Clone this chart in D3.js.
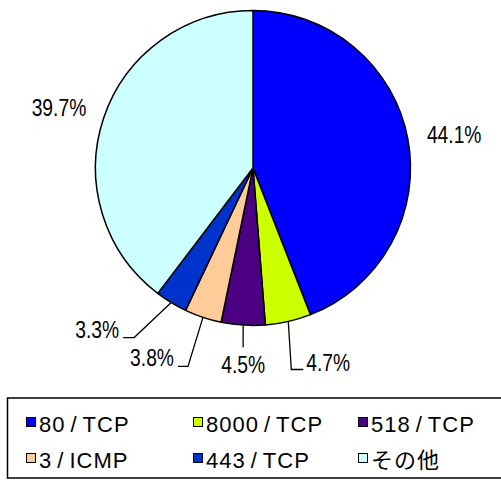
<!DOCTYPE html>
<html>
<head>
<meta charset="utf-8">
<script src="https://cdn.jsdelivr.net/npm/d3@7"></script>
<style>
	body { margin: 0; background: #fff; }
	svg { display: block; }
	.label { font-family: "Liberation Sans", Arial, sans-serif; font-size: 23.5px; fill: #000; }
	.legend-text { font-family: "Liberation Sans", Arial, "Noto Sans CJK JP", sans-serif; font-size: 22px; letter-spacing: 1px; fill: #000; }
	.leader { fill: none; stroke: #000; stroke-width: 1.3; }
</style>
</head>
<body>
<div id="chart"></div>
<script>
var categories = ["80/TCP", "8000/TCP", "518/TCP", "3/ICMP", "443/TCP", "その他"]
var shares = [44.1, 4.7, 4.5, 3.8, 3.3, 39.7]
var colors = ["#0000FF", "#CCFF00", "#4B0082", "#FFCC99", "#0033CC", "#CCFFFF"]

var width = 501
var height = 480
var center = {x: 253, y: 168}
var radius = 157.5
var narrow = 0.82

// leader layout for the small slices: elbow offset from arc point, tail length
var leaders = [
	null,
	{dx: 3, dy: 48, tail: 12},
	{dx: 0, dy: 22, tail: 0},
	{dx: -15, dy: 49, tail: -10},
	{dx: -37, dy: 35, tail: -11},
	null
]

var svg = d3.select("#chart")
	.append("svg")
		.attr("width", width)
		.attr("height", height)

var pie = d3.pie().sort(null).value((d) => d)
var arcs = pie(shares)
var arc = d3.arc().innerRadius(0).outerRadius(radius)
var outerArc = d3.arc().innerRadius(radius * 1.3).outerRadius(radius * 1.3)
var edgeArc = d3.arc().innerRadius(radius).outerRadius(radius)

var g = svg.append("g")
	.attr("transform", "translate(" + center.x + ", " + center.y + ")")

g.selectAll("path.slice")
	.data(arcs)
	.enter()
	.append("path")
		.attr("class", "slice")
		.attr("d", arc)
		.attr("fill", (d, i) => colors[i])
		.attr("stroke", "#000")
		.attr("stroke-width", 1.5)
		.attr("stroke-linejoin", "round")

var fmt = (v) => v.toFixed(1) + "%"

function put_label(x, y, anchor, txt) {
	g.append("text")
		.attr("class", "label")
		.attr("transform", "translate(" + x + ", " + y + ") scale(" + narrow + ", 1)")
		.style("text-anchor", anchor)
		.text(txt)
}

arcs.forEach((d, i) => {
	var lay = leaders[i]
	if (!lay) {
		var [x, y] = outerArc.centroid(d)
		put_label(x, y + 13, "middle", fmt(shares[i]))
		return
	}
	var [px, py] = edgeArc.centroid(d)
	var ex = px + lay.dx, ey = py + lay.dy
	var tx = ex + lay.tail
	g.append("path")
		.attr("class", "leader")
		.attr("d", d3.line()([[px, py], [ex, ey], [tx, ey]]))
	if (lay.tail > 0) put_label(tx + 3, ey + 1.5, "start", fmt(shares[i]))
	else if (lay.tail < 0) put_label(tx - 4, ey, "end", fmt(shares[i]))
	else put_label(ex, ey + 26, "middle", fmt(shares[i]))
})

// legend
var legend = svg.append("g").attr("class", "legend")
legend.append("rect")
	.attr("x", 7.5)
	.attr("y", 398)
	.attr("width", 520)
	.attr("height", 80)
	.attr("fill", "#fff")
	.attr("stroke", "#000")
	.attr("stroke-width", 1.5)

var colX = d3.scaleOrdinal().domain([0, 1, 2]).range([26, 193, 358])
var rowY = d3.scaleOrdinal().domain([0, 1]).range([432, 468])

var items = legend.selectAll("g.item")
	.data(categories)
	.enter()
	.append("g")
		.attr("class", "item")
		.attr("transform", (d, i) => "translate(" + colX(i % 3) + ", " + rowY(Math.floor(i / 3)) + ")")
items.append("rect")
	.attr("x", 0.5)
	.attr("y", -14.5)
	.attr("width", 9)
	.attr("height", 9)
	.attr("fill", (d, i) => colors[i])
	.attr("stroke", "#000")
	.attr("stroke-width", 1)
// slash gets extra room on both sides, like the original font
items.append("text")
	.attr("class", "legend-text")
	.attr("x", 13)
	.attr("y", 0)
	.each(function (d) {
		var parts = d.split("/")
		var t = d3.select(this)
		t.append("tspan").text(parts[0])
		if (parts.length > 1) {
			t.append("tspan").attr("dx", 5).text("/")
			t.append("tspan").attr("dx", 5).text(parts[1])
		}
	})
</script>
</body>
</html>
